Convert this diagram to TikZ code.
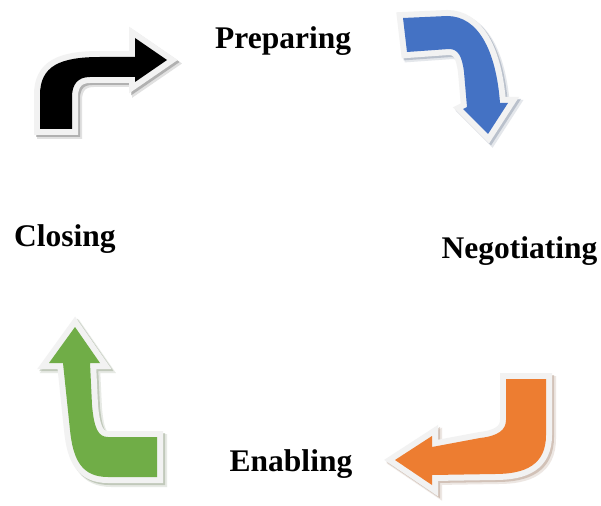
\documentclass[tikz,border=0pt]{standalone}
\usepackage{fontspec}
\setmainfont{Liberation Serif}
\definecolor{rimgray}{HTML}{F2F2F2}
\definecolor{arrblack}{HTML}{000000}
\definecolor{arrblue}{HTML}{4472C4}
\definecolor{arrorange}{HTML}{ED7D31}
\definecolor{arrgreen}{HTML}{70AD47}
% bent arrow: soft shadow, light rim, coloured body
\newcommand\drawbent[2]{%
  \begin{scope}[shift={(3.5,3.5)}]
    \draw[line width=13pt, line join=miter, draw=#1!30!gray, opacity=0.18] #2;
  \end{scope}
  \begin{scope}[shift={(2,2)}]
    \draw[line width=12pt, line join=miter, draw=#1!30!gray, opacity=0.35] #2;
  \end{scope}
  \draw[line width=12pt, line join=miter, draw=rimgray, fill=#1] #2;
  \fill[#1] #2;
}
\tikzset{stage/.style={anchor=base west, inner sep=0pt,
  font=\bfseries\fontsize{31.5}{36}\selectfont}}
\begin{document}
\begin{tikzpicture}[x=1pt,y=-1pt]
\useasboundingbox[fill=white] (0,0) rectangle (601,505);

% top-left: black arrow turning right
\drawbent{arrblack}{(40,129) -- (40,95) .. controls (40,66) and (60,57) .. (100,57)
  -- (135,57) -- (135,38) -- (167,60) -- (135,82) -- (135,77) -- (90,77)
  .. controls (78,77) and (72,84) .. (72,97) -- (72,129) -- cycle}

% top-right: blue arrow turning down
\drawbent{arrblue}{(403,18) -- (447,16) .. controls (478,16) and (496,50) .. (500,103)
  -- (508,103) -- (488,134) -- (463,109) -- (467,107) -- (464,72)
  .. controls (462,56) and (458,49) .. (449,49) -- (407,52) -- cycle}

% bottom-right: orange arrow turning left
\drawbent{arrorange}{(506,379) -- (546,379) -- (546,435) .. controls (546,465) and (525,474) .. (495,474)
  -- (432,475) -- (432,485) -- (395,460) -- (432,436) -- (432,447) -- (480,438)
  .. controls (498,436) and (506,430) .. (506,420) -- cycle}

% bottom-left: green arrow turning up
\drawbent{arrgreen}{(63,363) -- (49,363) -- (75,327) -- (100,363) -- (90,363) -- (92,405)
  .. controls (94,428) and (98,437) .. (108,437) -- (157,437) -- (157,477) -- (108,477)
  .. controls (82,477) and (73,460) .. (70,430) -- cycle}

\node[stage] (preparing) at (215,48.3) {Preparing};
\node[stage] (negotiating) at (441.5,258.3) {Negotiating};
\node[stage] (closing) at (14,246) {Closing};
\node[stage] (enabling) at (229.5,471) {Enabling};
\end{tikzpicture}
\end{document}
